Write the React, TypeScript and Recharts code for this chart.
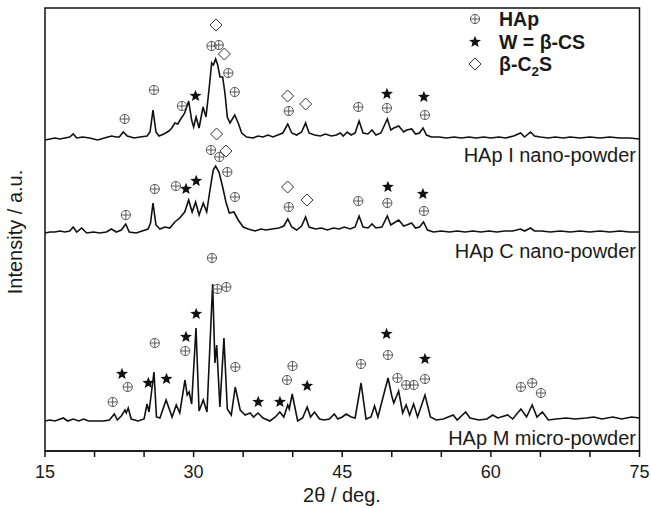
import React from 'react';
import { ComposedChart, Line, Scatter, XAxis, YAxis, ReferenceArea } from 'recharts';

// 2θ (deg) vs relative intensity (a.u.) above each pattern's own baseline
const hapIPattern: [number, number][] = [
  [15.0, 0], [15.5, 1], [16.0, 2], [16.5, 1], [17.0, 2], [17.5, 3], [17.85, 6], [18.2, 2], [18.8, 3], [19.5, 2],
  [20.3, 0], [21.0, 2], [21.7, 4], [22.2, 3], [22.5, 3], [22.9, 8], [23.3, 4], [24.0, 2], [24.6, 3], [25.3, 4],
  [25.6, 8], [25.9, 30], [26.2, 8], [26.5, 4], [27.0, 6], [27.5, 9], [27.8, 12], [28.1, 17], [28.4, 16], [28.7, 21],
  [29.1, 27], [29.5, 39], [29.8, 20], [30.0, 13], [30.25, 23], [30.55, 12], [30.95, 33], [31.25, 23], [31.58, 53],
  [31.82, 77], [32.0, 75], [32.22, 81], [32.43, 75], [32.66, 63], [32.93, 63], [33.16, 47], [33.4, 23], [33.67, 17],
  [34.15, 25], [34.5, 17], [34.85, 7], [35.35, 3], [36.0, 2], [36.5, 4], [37.0, 3], [37.5, 5], [38.0, 3], [38.5, 5],
  [39.0, 7], [39.5, 16], [39.9, 7], [40.4, 5], [40.9, 8], [41.3, 17], [41.65, 7], [42.2, 5], [42.8, 4], [43.3, 6],
  [43.9, 4], [44.4, 5], [44.8, 7], [45.1, 4], [45.5, 8], [45.9, 5], [46.3, 7], [46.7, 19], [47.1, 7], [47.6, 6],
  [48.0, 10], [48.4, 5], [48.9, 7], [49.55, 21], [49.9, 10], [50.2, 12], [50.7, 14], [51.2, 8], [51.5, 10], [52.0, 11],
  [52.4, 6], [52.8, 7], [53.15, 12], [53.5, 5], [54.0, 3], [54.8, 3], [55.5, 2], [56.3, 3], [57.0, 2], [57.8, 3],
  [58.5, 2], [59.3, 3], [60.0, 2], [60.8, 3], [61.5, 2], [62.3, 4], [63.0, 7], [63.4, 3], [64.0, 8], [64.4, 4],
  [65.0, 3], [65.8, 2], [66.5, 3], [67.3, 2], [68.0, 3], [69.0, 2], [70.0, 3], [71.0, 2], [72.0, 3], [73.0, 2],
  [74.0, 2], [75.0, 1],
];

const hapCPattern: [number, number][] = [
  [15.0, 0], [15.5, 1], [16.0, 1], [16.5, 2], [17.0, 1], [17.5, 2], [17.85, 6], [18.2, 1], [18.7, 5], [19.2, 0],
  [19.9, 1], [20.5, 0], [21.2, 1], [21.7, 4], [22.2, 1], [22.7, 3], [23.15, 9], [23.5, 1], [24.2, 0], [24.8, 2],
  [25.4, 4], [25.65, 10], [25.9, 30], [26.2, 8], [26.6, 4], [27.1, 6], [27.6, 5], [28.1, 11], [28.6, 15], [29.1, 21],
  [29.5, 33], [29.85, 21], [30.2, 31], [30.55, 18], [30.97, 30], [31.32, 21], [31.65, 43], [31.98, 63], [32.22, 67],
  [32.56, 61], [32.93, 46], [33.26, 31], [33.6, 20], [34.07, 21], [34.5, 13], [35.0, 6], [35.5, 4], [36.2, 2],
  [36.8, 4], [37.3, 3], [37.9, 4], [38.6, 5], [39.1, 7], [39.5, 14], [39.9, 6], [40.4, 3], [40.9, 7], [41.3, 16],
  [41.65, 6], [42.3, 4], [42.9, 5], [43.5, 3], [44.1, 5], [44.7, 4], [45.2, 6], [45.8, 4], [46.3, 6], [46.7, 17],
  [47.1, 6], [47.6, 5], [48.0, 9], [48.4, 5], [49.0, 6], [49.55, 17], [49.9, 8], [50.2, 10], [50.7, 13], [51.2, 7],
  [51.5, 8], [52.0, 10], [52.4, 5], [52.8, 6], [53.2, 11], [53.6, 3], [54.2, 1], [55.0, 2], [55.8, 1], [56.6, 2],
  [57.4, 1], [58.2, 2], [59.0, 1], [59.8, 2], [60.6, 1], [61.4, 2], [62.2, 2], [63.0, 4], [63.4, 2], [64.0, 5],
  [64.4, 2], [65.1, 2], [66.0, 1], [67.0, 2], [68.0, 1], [69.0, 2], [70.0, 1], [71.0, 2], [72.0, 1], [73.0, 2],
  [74.0, 1], [75.0, 1],
];

const hapMPattern: [number, number][] = [
  [15.0, 0], [15.5, 1], [16.0, 0], [16.85, 3], [17.3, 0], [17.85, 2], [18.4, 0], [18.9, 2], [19.4, 0], [20.2, 0],
  [20.9, 0], [21.5, 1], [22.0, 7], [22.3, 1], [22.7, 5], [23.07, 11], [23.2, 8], [23.4, 13], [23.7, 2], [24.4, 0],
  [25.0, 2], [25.3, 17], [25.5, 9], [26.0, 49], [26.25, 4], [26.6, 3], [27.22, 21], [27.83, 4], [28.25, 16],
  [28.6, 8], [29.13, 41], [29.35, 26], [29.55, 29], [29.8, 17], [30.24, 93], [30.55, 10], [30.97, 21], [31.35, 9],
  [31.92, 137], [32.15, 58], [32.33, 76], [32.65, 14], [33.06, 83], [33.4, 12], [33.8, 6], [34.2, 34], [34.7, 11],
  [35.2, 6], [35.7, 8], [36.05, 4], [36.5, 8], [37.0, 3], [37.7, 0], [38.25, 4], [38.7, 9], [39.1, 4], [39.5, 16],
  [39.65, 12], [39.95, 27], [40.5, 0], [41.0, 3], [41.46, 14], [41.8, 4], [42.2, 9], [42.7, 2], [43.2, 1], [43.7, 2],
  [44.2, 7], [44.55, 2], [45.0, 4], [45.4, 7], [45.9, 4], [46.3, 3], [46.9, 38], [47.4, 2], [47.9, 4], [48.26, 15],
  [48.6, 4], [49.62, 43], [50.0, 25], [50.2, 18], [50.69, 30], [51.1, 8], [51.45, 16], [51.8, 6], [52.2, 17],
  [52.6, 4], [53.35, 26], [53.9, 4], [54.5, 1], [55.2, 2], [56.2, 6], [56.6, 1], [57.45, 9], [57.9, 3], [58.8, 1],
  [59.6, 2], [60.18, 6], [60.7, 3], [61.7, 6], [62.2, 2], [63.03, 12], [63.6, 4], [64.17, 16], [64.65, 4], [65.2, 9],
  [65.8, 1], [66.6, 2], [67.6, 3], [68.5, 2], [69.6, 3], [70.4, 4], [71.2, 2], [72.3, 4], [73.2, 2], [74.2, 4],
  [75.0, 3],
];

// phase markers: [2θ, height above the pattern baseline]
const hapIMarkHAp: [number, number][] = [
  [23.04, 21], [26.0, 50], [28.82, 34], [31.81, 94], [32.54, 95], [33.5, 67], [34.15, 48], [39.6, 29], [46.62, 33],
  [49.51, 32], [53.34, 25],
];
const hapIMarkCS: [number, number][] = [[30.19, 44], [49.51, 46], [53.24, 43]];
const hapIMarkC2S: [number, number][] = [[32.26, 115], [33.1, 86], [39.49, 44], [41.31, 36]];

const hapCMarkHAp: [number, number][] = [
  [23.16, 18], [26.08, 44], [28.21, 47], [31.75, 83], [32.59, 76], [33.4, 61], [34.17, 36], [39.6, 26], [46.62, 32],
  [49.55, 30], [53.24, 22],
];
const hapCMarkCS: [number, number][] = [[29.23, 44], [30.26, 52], [49.61, 46], [53.14, 39]];
const hapCMarkC2S: [number, number][] = [[32.32, 99], [33.26, 82], [39.49, 46], [41.44, 33]];

const hapMMarkHAp: [number, number][] = [
  [21.83, 19], [23.35, 34], [26.08, 78], [29.16, 70], [31.85, 163], [32.39, 132], [33.3, 134], [34.21, 54],
  [39.42, 41], [39.98, 55], [46.89, 57], [49.61, 66], [50.57, 43], [51.45, 36], [52.21, 36], [53.35, 42],
  [63.03, 34], [64.17, 38], [65.05, 28],
];
const hapMMarkCS: [number, number][] = [
  [22.77, 47], [25.43, 38], [27.26, 42], [29.23, 84], [30.26, 107], [36.52, 19], [38.71, 19], [41.46, 35],
  [49.47, 87], [53.35, 62],
];

// vertical stacking offsets of the three patterns
const offsetI = 311;
const offsetC = 218;
const offsetM = 30;

const xTicks = [15, 20, 25, 30, 35, 40, 45, 50, 55, 60, 65, 70, 75];

const shift = (arr: [number, number][], off: number) => arr.map(([x, y]) => ({ x, y: y + off }));

const hapMarks = [
  ...shift(hapIMarkHAp, offsetI),
  ...shift(hapCMarkHAp, offsetC),
  ...shift(hapMMarkHAp, offsetM),
];
const csMarks = [...shift(hapIMarkCS, offsetI), ...shift(hapCMarkCS, offsetC), ...shift(hapMMarkCS, offsetM)];
const c2sMarks = [...shift(hapIMarkC2S, offsetI), ...shift(hapCMarkC2S, offsetC)];

const FONT = '"Liberation Sans", Arial, Helvetica, sans-serif';
const INK = '#1a1a1a';

const CrossCircle = ({ cx, cy }: { cx: number; cy: number }) => (
  <g stroke="#4a4a4a" strokeWidth={0.9} fill="none">
    <circle cx={cx} cy={cy} r={4.6} />
    <line x1={cx - 4.6} x2={cx + 4.6} y1={cy} y2={cy} />
    <line x1={cx} x2={cx} y1={cy - 4.6} y2={cy + 4.6} />
  </g>
);

const starPath = (cx: number, cy: number, r: number) => {
  let d = '';
  for (let i = 0; i < 10; i++) {
    const rr = i % 2 === 0 ? r : r * 0.42;
    const a = -Math.PI / 2 + (i * Math.PI) / 5;
    d += `${i === 0 ? 'M' : 'L'}${cx + rr * Math.cos(a)},${cy + rr * Math.sin(a)}`;
  }
  return d + 'Z';
};

const Star = ({ cx, cy }: { cx: number; cy: number }) => <path d={starPath(cx, cy, 6.3)} fill="#111" />;

const Diamond = ({ cx, cy }: { cx: number; cy: number }) => (
  <path
    d={`M${cx},${cy - 6}L${cx + 6},${cy}L${cx},${cy + 6}L${cx - 6},${cy}Z`}
    fill="#fff"
    stroke="#333"
    strokeWidth={1}
  />
);

const XTick = (props: any) => {
  const { x, y, payload } = props;
  if (payload.value % 15 !== 0) return null;
  return (
    <text x={x} y={y} dy={19} textAnchor="middle" fontSize={18} fontFamily={FONT} fill={INK}>
      {payload.value}
    </text>
  );
};

const axisLine = { stroke: '#111', strokeWidth: 1.5 };

export default function App() {
  return (
    <div style={{ position: 'absolute', left: 0, top: 0, width: 651, height: 508, background: '#fff' }}>
      <ComposedChart width={651} height={508} margin={{ top: 8, right: 11.5, bottom: 0, left: 45 }}>
        <XAxis
          xAxisId="b"
          type="number"
          dataKey="x"
          domain={[15, 75]}
          ticks={xTicks}
          interval={0}
          height={57}
          tickSize={6}
          axisLine={axisLine}
          tickLine={axisLine}
          tick={<XTick />}
          allowDataOverflow
        />
        <YAxis yAxisId="l" type="number" dataKey="y" domain={[0, 443]} width={0} tick={false} tickLine={false} axisLine={axisLine} allowDataOverflow />

        {/* plot frame */}
        <ReferenceArea xAxisId="b" yAxisId="l" x1={15} x2={75} y1={0} y2={443} fill="none" stroke="#111" strokeWidth={1.5} ifOverflow="visible" />

        <Line xAxisId="b" yAxisId="l" data={shift(hapIPattern, offsetI)} dataKey="y" type="linear" stroke="#111" strokeWidth={1.6} dot={false} isAnimationActive={false} />
        <Line xAxisId="b" yAxisId="l" data={shift(hapCPattern, offsetC)} dataKey="y" type="linear" stroke="#111" strokeWidth={1.6} dot={false} isAnimationActive={false} />
        <Line xAxisId="b" yAxisId="l" data={shift(hapMPattern, offsetM)} dataKey="y" type="linear" stroke="#111" strokeWidth={1.6} dot={false} isAnimationActive={false} />

        <Scatter xAxisId="b" yAxisId="l" data={hapMarks} dataKey="y" shape={(p: any) => <CrossCircle cx={p.cx} cy={p.cy} />} isAnimationActive={false} />
        <Scatter xAxisId="b" yAxisId="l" data={csMarks} dataKey="y" shape={(p: any) => <Star cx={p.cx} cy={p.cy} />} isAnimationActive={false} />
        <Scatter xAxisId="b" yAxisId="l" data={c2sMarks} dataKey="y" shape={(p: any) => <Diamond cx={p.cx} cy={p.cy} />} isAnimationActive={false} />
      </ComposedChart>

      <svg width={651} height={508} style={{ position: 'absolute', left: 0, top: 0, pointerEvents: 'none' }}>
        {/* legend */}
        <CrossCircle cx={475} cy={19} />
        <Star cx={475} cy={42} />
        <Diamond cx={475} cy={64} />
        <g fontFamily={FONT} fontWeight="bold" fontSize={19.5} fill={INK}>
          <text x={499} y={26}>HAp</text>
          <text x={499} y={49}>W = β-CS</text>
          <text x={499} y={71}>
            β-C<tspan fontSize={13.5} dy={5}>2</tspan>
            <tspan dy={-5}>S</tspan>
          </text>
        </g>

        {/* pattern labels */}
        <g fontFamily={FONT} fontSize={20} fill={INK} textAnchor="end">
          <text x={636} y={162}>HAp I nano-powder</text>
          <text x={636} y={258}>HAp C nano-powder</text>
          <text x={636} y={445}>HAp M micro-powder</text>
        </g>

        {/* axis titles */}
        <text x={342} y={502} textAnchor="middle" fontFamily={FONT} fontSize={20} fill={INK}>
          2θ / deg.
        </text>
        <text
          x={0}
          y={0}
          transform="translate(22,232) rotate(-90)"
          textAnchor="middle"
          fontFamily={FONT}
          fontSize={20}
          fill={INK}
        >
          Intensity / a.u.
        </text>
      </svg>
    </div>
  );
}
